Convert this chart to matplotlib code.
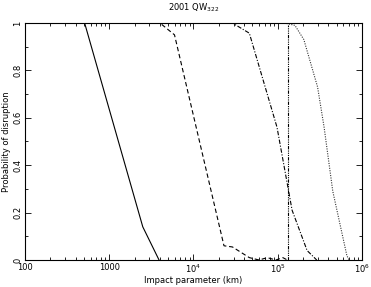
import matplotlib
matplotlib.use('Agg')
import matplotlib.pyplot as plt
from matplotlib.ticker import LogLocator, NullFormatter
import numpy as np

# impact parameter (km) vs probability of disruption
solid_x = [100, 510, 2500, 3900]
solid_y = [1.0, 1.0, 0.14, 0.0]

dashed_x = [100, 4000, 5950, 23000, 29000, 46000, 60000, 75000, 95000, 115000, 130000]
dashed_y = [1.0, 1.0, 0.95, 0.06, 0.055, 0.01, 0.0, 0.01, 0.0, 0.01, 0.0]

dashdot_x = [100, 29000, 46000, 98000, 148000, 223000, 290000]
dashdot_y = [1.0, 1.0, 0.957, 0.56, 0.21, 0.04, 0.0]

vline_x = [132000, 132000]
vline_y = [0.0, 0.99]

dotted_x = [100, 120000, 160000, 204000, 297000, 355000, 450000, 660000, 700000]
dotted_y = [1.0, 1.0, 0.99, 0.93, 0.73, 0.56, 0.29, 0.02, 0.0]

xticks = [100, 1000, 1e4, 1e5, 1e6]
xticklabels = ['100', '1000', r'10$^4$', r'10$^5$', r'10$^6$']
yticks = [0, 0.2, 0.4, 0.6, 0.8, 1]
yticklabels = ['0', '0.2', '0.4', '0.6', '0.8', '1']

fs = 6

fig = plt.figure(figsize=(3.71, 2.87), dpi=100)
ax = fig.add_axes([25 / 371, 27 / 287, 337 / 371, 237 / 287])

lw = 0.8
ax.plot(solid_x, solid_y, '-', color='black', lw=lw)
ax.plot(dashed_x, dashed_y, color='black', lw=lw, dashes=(4, 2.5))
ax.plot(dashdot_x, dashdot_y, color='black', lw=lw, dashes=(4, 1.5, 1, 1.5))
ax.plot(vline_x, vline_y, color='black', lw=lw, dashes=(3, 1, 1, 1, 1, 1, 1, 1))
ax.plot(dotted_x, dotted_y, color='#333333', lw=lw, dashes=(1, 1.2))

ax.set_xscale('log')
ax.set_xlim(100, 1e6)
ax.set_ylim(0, 1)
ax.set_xticks(xticks)
ax.set_xticklabels(xticklabels)
ax.xaxis.set_minor_locator(LogLocator(base=10, subs=np.arange(2, 10)))
ax.xaxis.set_minor_formatter(NullFormatter())
ax.set_yticks(yticks)
ax.set_yticklabels(yticklabels, rotation=90, va='center')
ax.set_yticks(np.arange(0.1, 1.0, 0.2), minor=True)

ax.tick_params(which='both', direction='in', top=True, right=True,
               labelsize=fs, width=0.6, pad=2)
ax.tick_params(which='major', length=4)
ax.tick_params(which='minor', length=2)
for s in ax.spines.values():
    s.set_linewidth(0.8)

ax.set_xlabel('Impact parameter (km)', fontsize=fs)
ax.xaxis.set_label_coords(0.5, -0.068)
ax.set_ylabel('Probability of disruption', fontsize=fs)
ax.yaxis.set_label_coords(-0.043, 0.5)
ax.set_title(r'2001 QW$_{322}$', fontsize=fs, pad=9)

fig.savefig('out.png', dpi=100)
